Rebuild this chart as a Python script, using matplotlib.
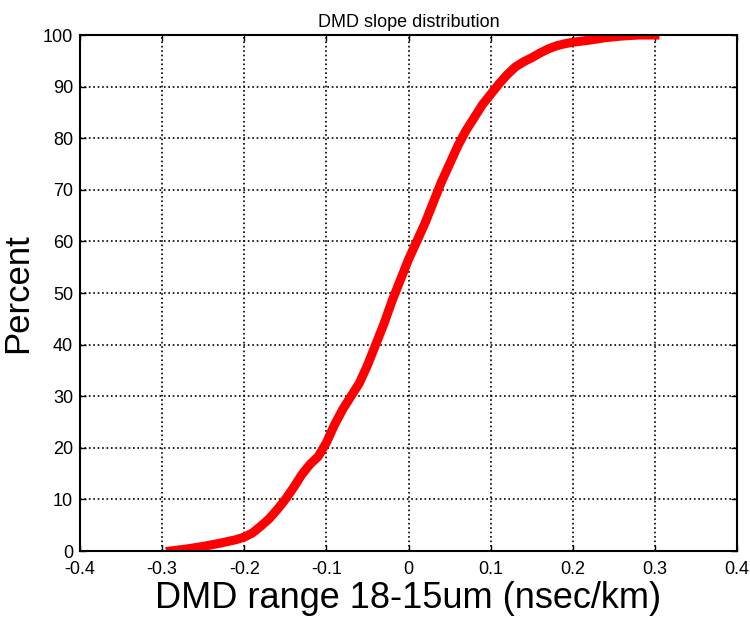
import numpy as np
from matplotlib import pyplot as plt

plt.rcParams['font.family'] = ['Liberation Sans', 'DejaVu Sans']

# DMD slope values (nsec/km) and cumulative percent
x_data = [-0.29, -0.27, -0.25, -0.23, -0.21, -0.20, -0.19, -0.18, -0.17, -0.16,
          -0.15, -0.14, -0.13, -0.12, -0.11, -0.10, -0.09, -0.08, -0.07, -0.06,
          -0.05, -0.04, -0.03, -0.02, -0.01, 0.00, 0.01, 0.02, 0.03, 0.04,
          0.05, 0.06, 0.07, 0.08, 0.09, 0.10, 0.11, 0.12, 0.13, 0.14,
          0.15, 0.16, 0.17, 0.18, 0.19, 0.20, 0.22, 0.24, 0.26, 0.28, 0.30]
y_data = [0.0, 0.4, 0.9, 1.5, 2.2, 2.7, 3.5, 4.8, 6.2, 8.0,
          10.0, 12.3, 14.8, 16.8, 18.3, 21.0, 24.5, 27.5, 30.0, 32.5,
          36.0, 40.0, 44.0, 48.5, 52.5, 56.5, 60.0, 63.5, 67.5, 71.5,
          75.0, 78.5, 81.5, 84.0, 86.5, 88.5, 90.5, 92.3, 93.8, 94.8,
          95.6, 96.5, 97.3, 97.9, 98.3, 98.6, 99.0, 99.5, 99.8, 100.0, 100.0]

fig = plt.figure(figsize=(7.5, 6.21), dpi=100)
ax = fig.add_axes([0.1067, 0.1127, 0.876, 0.8309])
ax.plot(x_data, y_data, color="red", linewidth=6.5)
ax.set_xlim(-0.4, 0.4)
ax.set_ylim(0, 100)
ax.set_xticks(np.arange(-0.4, 0.41, 0.1))
ax.set_xticklabels(["-0.4", "-0.3", "-0.2", "-0.1", "0", "0.1", "0.2", "0.3", "0.4"])
ax.set_yticks(np.arange(0, 101, 10))
ax.grid(color="black", linestyle=":", linewidth=1.2)
ax.tick_params(direction="in", length=4, width=1, labelsize=13, top=True, right=True)
ax.tick_params(axis="x", pad=7)
ax.tick_params(axis="y", pad=5)
for s in ax.spines.values():
    s.set_linewidth(1.5)
ax.set_xlabel("DMD range 18-15um (nsec/km)", fontsize=26, labelpad=2)
ax.set_ylabel("Percent", fontsize=25, labelpad=6)
ax.set_title("DMD slope distribution", fontsize=13, pad=6)

plt.savefig("out.png")
